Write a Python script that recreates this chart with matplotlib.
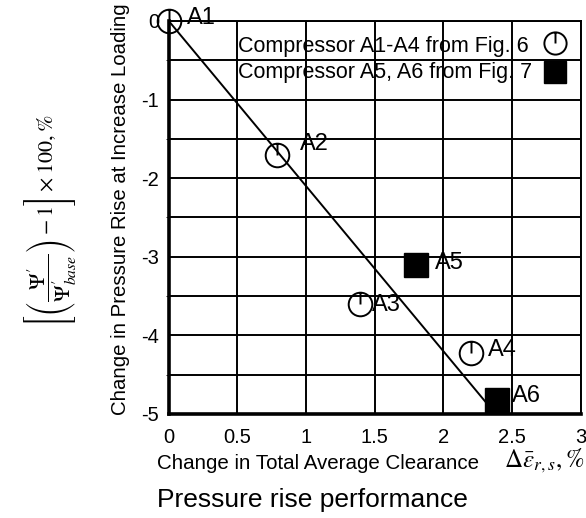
import numpy as np
import matplotlib.pyplot as plt
from matplotlib.path import Path

plt.rcParams['font.family'] = ['Liberation Sans', 'DejaVu Sans']
plt.rcParams['axes.unicode_minus'] = False
plt.rcParams['mathtext.fontset'] = 'stix'

# compressors A1-A4 (Fig. 6) and A5, A6 (Fig. 7)
names_fig6 = ['A1', 'A2', 'A3', 'A4']
clear_fig6 = [0.0, 0.79, 1.39, 2.20]
psi_fig6 = [0.0, -1.71, -3.60, -4.22]

names_fig7 = ['A5', 'A6']
clear_fig7 = [1.80, 2.39]
psi_fig7 = [-3.10, -4.82]

# trend line
trend_x = [0.0, 2.38]
trend_y = [0.0, -5.0]

xticks = [0, 0.5, 1, 1.5, 2, 2.5, 3]
xticklabels = ['0', '0.5', '1', '1.5', '2', '2.5', '3']
yticks = [0, -1, -2, -3, -4, -5]
yticklabels = ['0', '-1', '-2', '-3', '-4', '-5']

# label offsets in points (right of each marker)
lab_off = {'A1': (13, 2), 'A2': (16, 8), 'A3': (9, -1), 'A4': (12, 2),
           'A5': (14, 1), 'A6': (11, 3)}

# circle with a stroke from the centre up to the rim
circ = Path.make_compound_path(Path.unit_circle(), Path([[0, 0], [0, 1]]))

fig = plt.figure(figsize=(5.86, 5.18), dpi=100)
ax = fig.add_axes([0.288, 0.2008, 0.703, 0.7587])

ax.set_xlim(0, 3)
ax.set_ylim(-5, 0)
ax.set_yticks(np.arange(-5, 0.01, 0.5), minor=True)
ax.set_xticks(xticks)
ax.set_xticklabels(xticklabels, fontsize=14.5)
ax.set_yticks(yticks)
ax.set_yticklabels(yticklabels, fontsize=14.5)
ax.tick_params(length=0)
ax.tick_params(axis='x', pad=10)
ax.tick_params(axis='y', pad=7)
ax.grid(True, which='both', color='black', lw=1.4)
ax.set_axisbelow(True)
for side in ['top', 'right']:
    ax.spines[side].set_linewidth(1.4)
for side in ['left', 'bottom']:
    ax.spines[side].set_linewidth(2.6)

ax.plot(trend_x, trend_y, color='black', lw=1.4, zorder=3)

ax.plot(clear_fig6, psi_fig6, ls='none', marker=circ, ms=17, mfc='none',
        mec='black', mew=1.4, zorder=4, clip_on=False)
ax.plot(clear_fig7, psi_fig7, ls='none', marker='s', ms=17, mfc='black',
        mec='black', zorder=4, clip_on=False)

for n, x, y in zip(names_fig6 + names_fig7, clear_fig6 + clear_fig7,
                   psi_fig6 + psi_fig7):
    ax.annotate(n, (x, y), xytext=lab_off[n], textcoords='offset points',
                fontsize=17, va='center', ha='left', zorder=5,
                annotation_clip=False)

# legend rows
ax.text(0.505, -0.33, 'Compressor A1-A4 from Fig. 6', fontsize=15.5, va='center')
ax.text(0.505, -0.66, 'Compressor A5, A6 from Fig. 7', fontsize=15.5, va='center')
ax.plot([2.81], [-0.28], ls='none', marker=circ, ms=16, mfc='none', mec='black',
        mew=1.4, zorder=4)
ax.plot([2.81], [-0.65], ls='none', marker='s', ms=16, mfc='black', mec='black',
        zorder=4)

fig.text(0.205, 0.597, 'Change in Pressure Rise at Increase Loading',
         fontsize=14.7, rotation=90, ha='center', va='center')

fig.text(0.085, 0.573,
         r'$\left[\left(\dfrac{\Psi^{\prime}}{\Psi^{\prime}_{base}}\right)-1\right]\times100,\%$',
         rotation=90, fontsize=16, ha='center', va='center')

fig.text(0.5435, 0.106, 'Change in Total Average Clearance', fontsize=14.8,
         ha='center', va='center')
fig.text(0.928, 0.11, r'$\Delta\bar{\varepsilon}_{r,s},\%$', fontsize=18,
         ha='center', va='center')
fig.text(0.533, 0.035, 'Pressure rise performance', fontsize=19,
         ha='center', va='center')

fig.savefig('out.png', dpi=100)
